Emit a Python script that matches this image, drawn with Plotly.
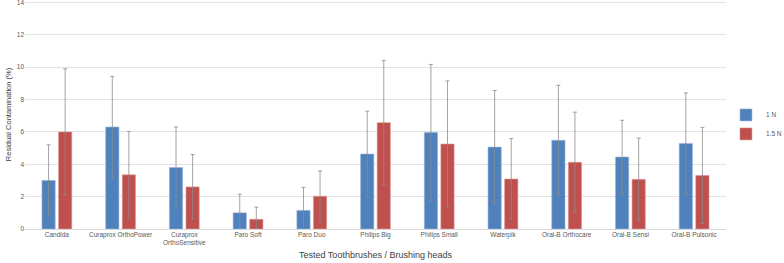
import plotly.graph_objects as go

categories = ["Candida", "Curaprox OrthoPower", "Curaprox<br>OrthoSensitive", "Paro Soft", "Paro Duo",
              "Philips Big", "Philips Small", "Waterpik", "Oral-B Orthocare", "Oral-B Sensi", "Oral-B Pulsonic"]
vals_1n = [3.0, 6.3, 3.8, 1.0, 1.15, 4.63, 5.97, 5.06, 5.48, 4.45, 5.29]
err_1n = [2.2, 3.13, 2.5, 1.15, 1.42, 2.65, 4.2, 3.5, 3.4, 2.27, 3.12]
vals_15n = [6.0, 3.35, 2.6, 0.6, 2.02, 6.57, 5.25, 3.09, 4.12, 3.07, 3.31]
err_15n = [3.9, 2.68, 2.0, 0.75, 1.57, 3.85, 3.9, 2.5, 3.1, 2.55, 2.97]
y_ticks = [0, 2, 4, 6, 8, 10, 12, 14]

font_fam = "Liberation Sans, Arial, sans-serif"
err_style = dict(type="data", visible=True, color="#8c8c8c", thickness=0.8, width=2)

fig = go.Figure()
fig.add_trace(go.Bar(name="1 N", x=categories, y=vals_1n,
                     error_y=dict(array=err_1n, **err_style),
                     marker=dict(color="#4F81BD", line=dict(color="#9db6d8", width=0.6))))
fig.add_trace(go.Bar(name="1.5 N", x=categories, y=vals_15n,
                     error_y=dict(array=err_15n, **err_style),
                     marker=dict(color="#C0504D", line=dict(color="#dc9b99", width=0.6))))

fig.update_layout(
    width=784, height=263,
    margin=dict(l=25, r=31, t=0, b=34),
    barmode="group", bargap=0.48, bargroupgap=0.2,
    plot_bgcolor="white", paper_bgcolor="white",
    font=dict(family=font_fam, size=7, color="#595959"),
    legend=dict(xref="container", yref="container", x=0.926, xanchor="left", y=0.527, yanchor="middle",
                font=dict(size=6.5), itemwidth=30, bgcolor="rgba(0,0,0,0)", tracegroupgap=0),
    xaxis=dict(title=dict(text="Tested Toothbrushes / Brushing heads", font=dict(size=9, color="#404040"), standoff=6),
               showgrid=False, showline=False, ticks="", tickfont=dict(size=6.5), tickangle=0, automargin=False),
    yaxis=dict(title=dict(text="Residual Contamination (%)", font=dict(size=7.5, color="#404040"), standoff=4),
               range=[0, 14.15], tickvals=y_ticks, showgrid=True, gridcolor="#e3e3e3", gridwidth=1,
               zeroline=True, zerolinecolor="#d9d9d9", zerolinewidth=1, showline=False, ticks="",
               tickfont=dict(size=6.5), automargin=False, ticklabeloverflow="allow"),
)

fig.write_html("out.html", config={"displayModeBar": False},
               post_script="document.body.style.margin='0';")
